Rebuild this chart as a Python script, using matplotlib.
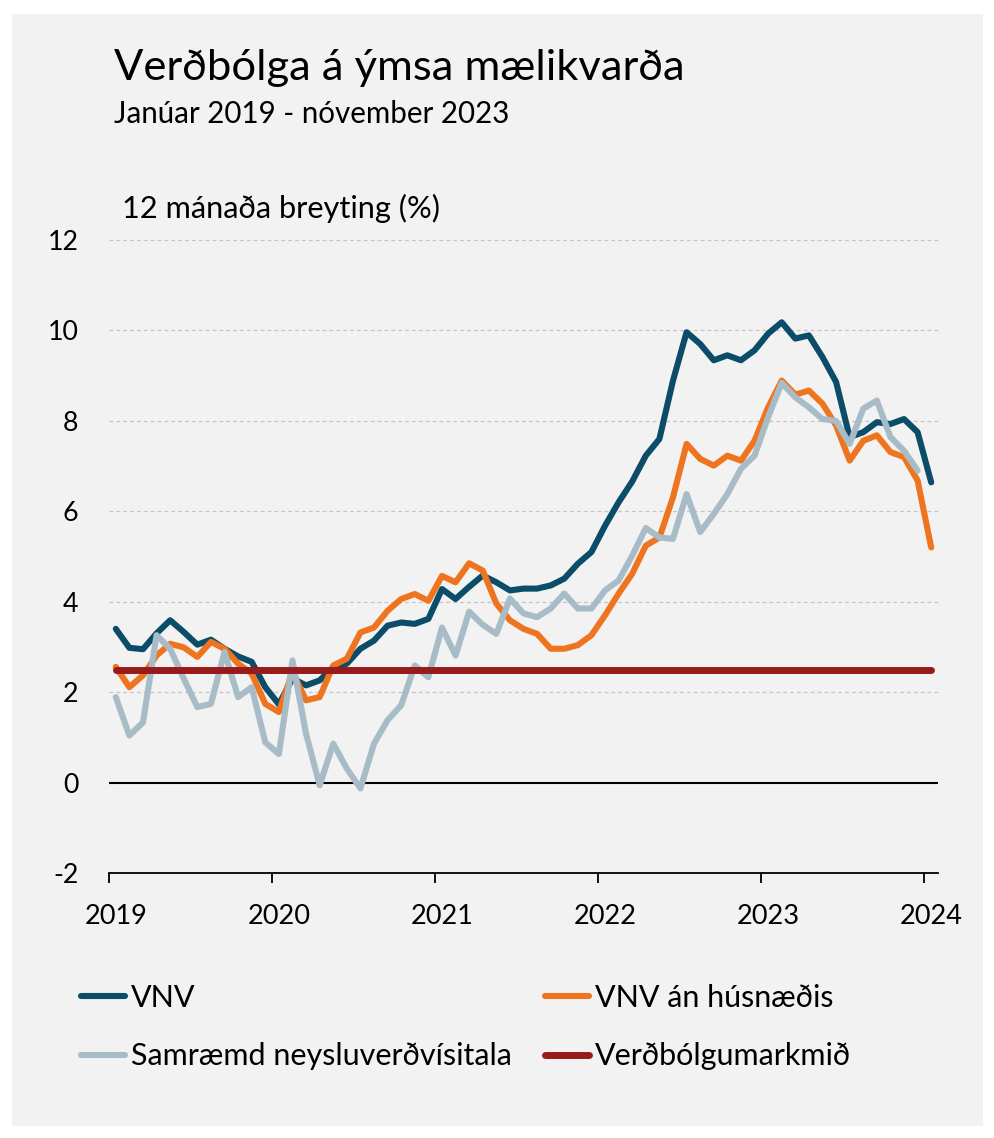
import matplotlib
matplotlib.use("Agg")
import matplotlib.pyplot as plt
import numpy as np
from matplotlib.patches import Rectangle

# ---------------- data ----------------
years = ["2019", "2020", "2021", "2022", "2023", "2024"]

vnv = [
    3.40, 2.98, 2.95, 3.30, 3.59, 3.33, 3.05, 3.16, 2.96, 2.79, 2.67, 2.11,
    1.73, 2.30, 2.15, 2.26, 2.55, 2.63, 2.96, 3.14, 3.47, 3.54, 3.51, 3.62,
    4.28, 4.06, 4.33, 4.58, 4.43, 4.25, 4.29, 4.29, 4.36, 4.51, 4.84, 5.10,
    5.68, 6.20, 6.66, 7.23, 7.60, 8.89, 9.96, 9.70, 9.34, 9.45, 9.34, 9.56,
    9.93, 10.18, 9.82, 9.89, 9.41, 8.86, 7.64, 7.75, 7.97, 7.93, 8.04, 7.75,
    6.64]

vnv_an_husnaedis = [
    2.56, 2.11, 2.37, 2.81, 3.07, 2.99, 2.78, 3.11, 2.96, 2.63, 2.41, 1.74,
    1.56, 2.45, 1.82, 1.89, 2.59, 2.74, 3.32, 3.43, 3.80, 4.06, 4.17, 4.02,
    4.57, 4.43, 4.85, 4.69, 3.96, 3.59, 3.40, 3.29, 2.96, 2.96, 3.04, 3.26,
    3.70, 4.18, 4.62, 5.24, 5.42, 6.31, 7.49, 7.16, 7.01, 7.23, 7.12, 7.56,
    8.30, 8.89, 8.58, 8.67, 8.38, 7.90, 7.12, 7.56, 7.68, 7.31, 7.20, 6.68,
    5.20]

samraemd = [
    1.89, 1.04, 1.33, 3.26, 2.96, 2.30, 1.67, 1.74, 2.89, 1.89, 2.11, 0.89,
    0.63, 2.70, 1.08, -0.06, 0.86, 0.31, -0.13, 0.86, 1.38, 1.71, 2.59, 2.33,
    3.43, 2.81, 3.78, 3.49, 3.29, 4.07, 3.74, 3.66, 3.85, 4.18, 3.85, 3.85,
    4.25, 4.47, 5.02, 5.63, 5.42, 5.39, 6.38, 5.54, 5.94, 6.38, 6.94, 7.23,
    8.08, 8.84, 8.52, 8.30, 8.04, 8.00, 7.49, 8.27, 8.45, 7.64, 7.34, 6.90]

verdbolgumarkmid = [2.5] * 61

labels = ["VNV", "VNV án húsnæðis", "Samræmd neysluverðvísitala", "Verðbólgumarkmið"]
y_ticks = [-2, 0, 2, 4, 6, 8, 10, 12]

title = "Verðbólga á ýmsa mælikvarða"
subtitle = "Janúar 2019 - nóvember 2023"
unit_label = "12 mánaða breyting (%)"

# ---------------- style ----------------
C_VNV = "#0b4c68"
C_ORA = "#ef7420"
C_GRY = "#a8bcc8"
C_RED = "#981b1b"
BG = "#f2f2f2"

W, H = 995, 1138
plt.rcParams["font.family"] = ["Lato", "DejaVu Sans"]
fig = plt.figure(figsize=(W / 100, H / 100), dpi=100, facecolor="white")
renderer = fig.canvas.get_renderer()


def fx(x):
    return x / W


def fy(y):
    return 1 - y / H


def fit_size(s, target, base=20.0):
    t = fig.text(0, 0, s, fontsize=base)
    w = t.get_window_extent(renderer).width
    t.remove()
    return base * target / w


fig.patches.append(Rectangle((fx(12), fy(1126)), (983 - 12) / W, (1126 - 14) / H,
                             transform=fig.transFigure, facecolor=BG,
                             edgecolor="none", zorder=-10))

ax = fig.add_axes([fx(109), fy(873), (938 - 109) / W, (873 - 240) / H])
ax.set_facecolor("none")
ax.set_zorder(1)

lw = 4.4
kw = dict(solid_joinstyle="round", solid_capstyle="round")
x_all = np.arange(len(vnv)) + 0.5
x_hicp = np.arange(len(samraemd)) + 0.5

h1, = ax.plot(x_all, vnv, color=C_VNV, lw=lw, zorder=3, label=labels[0], **kw)
h2, = ax.plot(x_all, vnv_an_husnaedis, color=C_ORA, lw=lw, zorder=4, label=labels[1], **kw)
h3, = ax.plot(x_hicp, samraemd, color=C_GRY, lw=lw, zorder=5, label=labels[2], **kw)
h4, = ax.plot(x_all, verdbolgumarkmid, color=C_RED, lw=5.0, zorder=6, label=labels[3], **kw)

ax.set_xlim(0, 61)
ax.set_ylim(-2, 12)

# grid
for yv in y_ticks[2:]:
    ax.axhline(yv, color="#c4c4c4", lw=0.9, ls=(0, (3, 2.5)), zorder=1)
ax.axhline(0, color="black", lw=1.5, zorder=2)

for s in ["left", "right", "top"]:
    ax.spines[s].set_visible(False)
ax.spines["bottom"].set_color("black")
ax.spines["bottom"].set_linewidth(1.3)

tick_fs = fit_size("2019", 63)
ytick_fs = fit_size("12", 31)

ax.set_xticks([12 * i for i in range(len(years))])
ax.set_xticklabels([""] * len(years))
ax.set_xticks([12 * i + 0.5 for i in range(len(years))], minor=True)
ax.set_xticklabels(years, minor=True, fontsize=tick_fs)
ax.tick_params(axis="x", which="major", length=7.5, width=1.3, color="black", direction="out")
ax.tick_params(axis="x", which="minor", length=0, pad=22)

ax.set_yticks(y_ticks)
ax.set_yticklabels([str(v) for v in y_ticks], fontsize=ytick_fs)
ax.tick_params(axis="y", length=0, pad=22)

# texts
fig.text(fx(114), fy(80), title, fontsize=fit_size(title, 570), va="baseline", ha="left")
fig.text(fx(114), fy(123), subtitle, fontsize=fit_size(subtitle, 396), va="baseline", ha="left")
fig.text(fx(122), fy(218), unit_label, fontsize=fit_size(unit_label, 318), va="baseline", ha="left")

# legend
leg_fs = fit_size(labels[2], 382)
fs_px = leg_fs * 100 / 72
common = dict(frameon=False, borderpad=0, borderaxespad=0, fontsize=leg_fs,
              handlelength=44 / fs_px, handletextpad=0.2, labelspacing=1.0,
              loc="center left")
fig.legend(handles=[h1, h3], labels=[labels[0], labels[2]],
           bbox_to_anchor=(fx(81), fy(1027)), **common)
fig.legend(handles=[h2, h4], labels=[labels[1], labels[3]],
           bbox_to_anchor=(fx(545), fy(1027)), **common)

fig.savefig("out.png", dpi=100, facecolor="white")
